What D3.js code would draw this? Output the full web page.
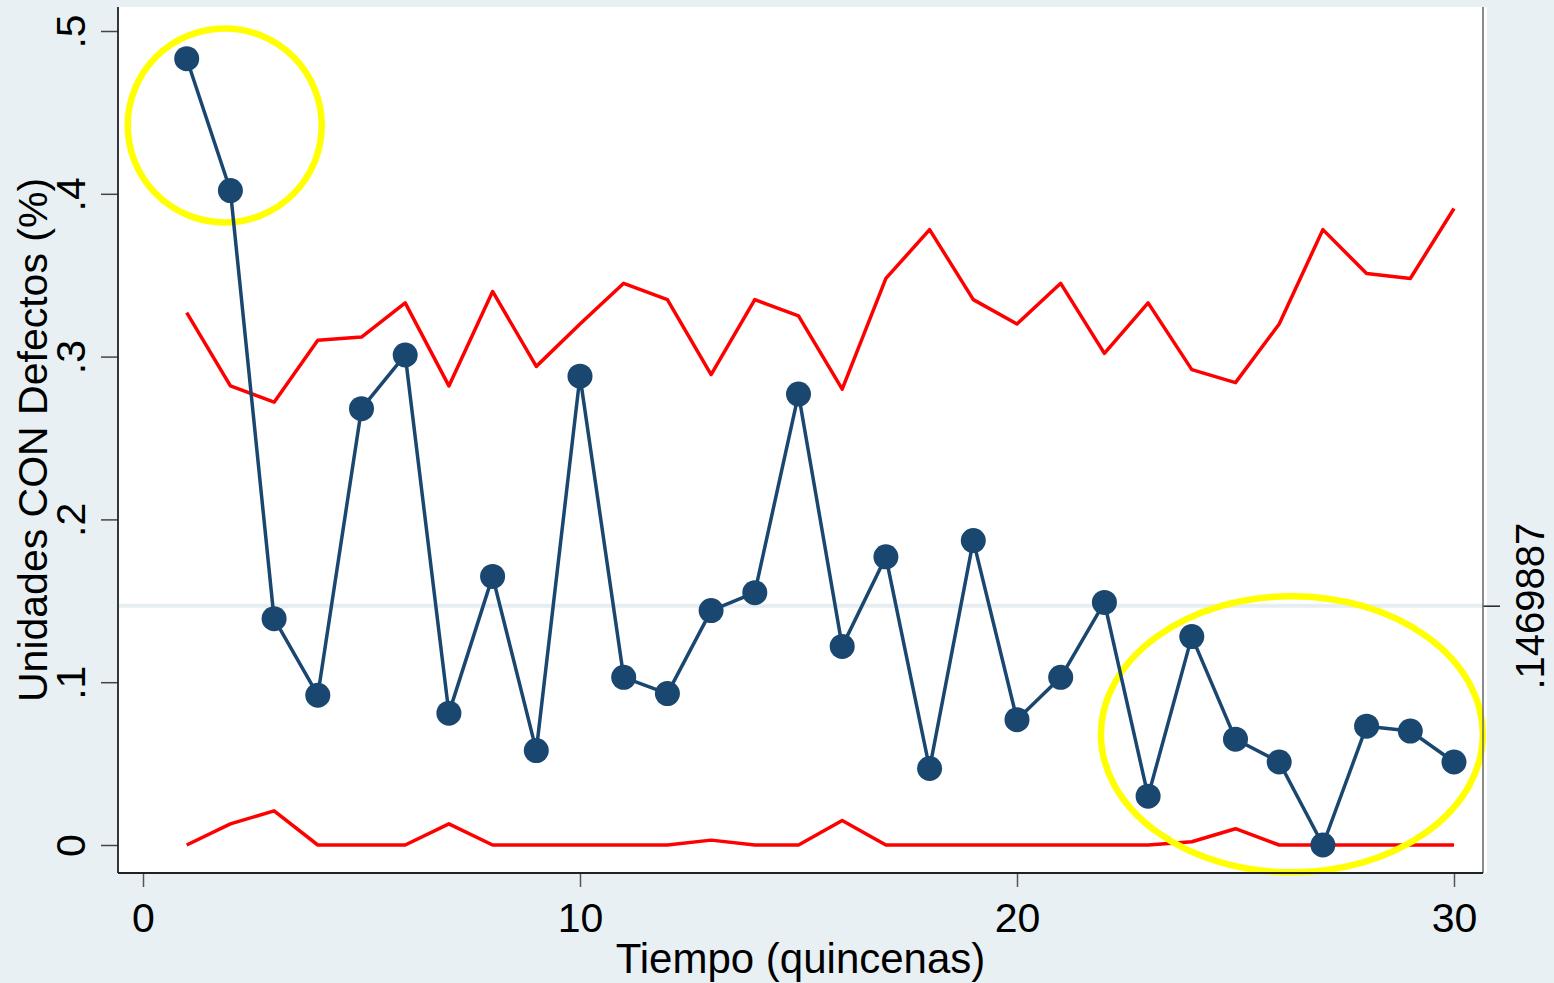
<!DOCTYPE html>
<html>
<head>
<meta charset="utf-8">
<script src="https://cdn.jsdelivr.net/npm/d3@7"></script>
<style>
  html, body { margin: 0; padding: 0; background: #e8f0f3; }
  svg { display: block; }
  text { font-family: "Liberation Sans", Arial, sans-serif; fill: #000; }
</style>
</head>
<body>
<div id="chart"></div>
<script>
// quincenas 1..30
const periods = d3.range(1, 31)

// proportion of units with defects
const pValues = [0.483, 0.402, 0.139, 0.092, 0.268, 0.301, 0.081, 0.165, 0.058, 0.288,
                 0.103, 0.093, 0.144, 0.155, 0.277, 0.122, 0.177, 0.047, 0.187, 0.077,
                 0.103, 0.149, 0.030, 0.128, 0.065, 0.051, 0.000, 0.073, 0.070, 0.051]

// upper control limit
const uclValues = [0.327, 0.282, 0.272, 0.310, 0.312, 0.333, 0.282, 0.340, 0.294, 0.320,
                   0.345, 0.335, 0.289, 0.335, 0.325, 0.280, 0.348, 0.378, 0.335, 0.320,
                   0.345, 0.302, 0.333, 0.292, 0.284, 0.320, 0.378, 0.351, 0.348, 0.391]

// lower control limit
const lclValues = [0, 0.013, 0.021, 0, 0, 0, 0.013, 0, 0, 0,
                   0, 0, 0.003, 0, 0, 0.015, 0, 0, 0, 0,
                   0, 0, 0, 0.002, 0.010, 0, 0, 0, 0, 0]

const centerLine = 0.1469887

const xTicks = [0, 10, 20, 30]
const yTicks = [0, 0.1, 0.2, 0.3, 0.4, 0.5]

// yellow highlight ellipses (data units): cx, cy, rx, ry
const highlights = [
    {cx: 1.87, cy: 0.442, rx: 2.22, ry: 0.0596},
    {cx: 26.29, cy: 0.068, rx: 4.37, ry: 0.0848}
]

const width = 1554
const height = 983
const plot = {left: 118, right: 1483, top: 7, bottom: 873}

const svg = d3.select("#chart").append("svg")
    .attr("width", width)
    .attr("height", height)

svg.append("rect")
    .attr("width", width).attr("height", height)
    .attr("fill", "#e8f0f3")

// plot region
svg.append("rect")
    .attr("x", plot.left).attr("y", plot.top)
    .attr("width", plot.right - plot.left + 4)
    .attr("height", plot.bottom - plot.top)
    .attr("fill", "#ffffff")

const x = d3.scaleLinear().domain([0, 30]).range([143, 1454])
const y = d3.scaleLinear().domain([0, 0.5]).range([845, 31])

// center line
svg.append("line")
    .attr("x1", plot.left).attr("x2", plot.right)
    .attr("y1", y(centerLine)).attr("y2", y(centerLine))
    .attr("stroke", "#e6eef1").attr("stroke-width", 4)

const line = d3.line().x((d, i) => x(periods[i])).y(d => y(d))

// control limits
svg.append("path").datum(uclValues)
    .attr("d", line).attr("fill", "none")
    .attr("stroke", "#ff0000").attr("stroke-width", 3.5).attr("stroke-linejoin", "round")
svg.append("path").datum(lclValues)
    .attr("d", line).attr("fill", "none")
    .attr("stroke", "#ff0000").attr("stroke-width", 3.5).attr("stroke-linejoin", "round")

// yellow highlights
svg.selectAll(".hl").data(highlights).enter().append("ellipse")
    .attr("class", "hl")
    .attr("cx", d => x(d.cx)).attr("cy", d => y(d.cy))
    .attr("rx", d => x(d.cx + d.rx) - x(d.cx))
    .attr("ry", d => y(d.cy - d.ry) - y(d.cy))
    .attr("fill", "none").attr("stroke", "#ffff00").attr("stroke-width", 6.5)

// p series
svg.append("path").datum(pValues)
    .attr("d", line).attr("fill", "none")
    .attr("stroke", "#1a476f").attr("stroke-width", 3.5).attr("stroke-linejoin", "round")

svg.selectAll(".dot").data(pValues).enter().append("circle")
    .attr("class", "dot")
    .attr("cx", (d, i) => x(periods[i]))
    .attr("cy", d => y(d))
    .attr("r", 12.5)
    .attr("fill", "#1a476f")

// axes
const fmt = d => d === 0 ? "0" : d3.format(".1f")(d).replace(/^0/, "")

const yAxis = svg.append("g")
    .attr("transform", `translate(${plot.left},0)`)
    .call(d3.axisLeft(y).tickValues(yTicks).tickFormat(fmt).tickSize(17))
yAxis.select(".domain").remove()
yAxis.selectAll(".tick line").attr("stroke", "#444").attr("stroke-width", 1.5)
yAxis.selectAll(".tick text")
    .attr("x", null).attr("dy", null)
    .attr("text-anchor", "middle")
    .attr("transform", "translate(-33,0) rotate(-90)")
    .style("font-size", "41px")

const rAxis = svg.append("g")
    .attr("transform", `translate(${plot.right},0)`)
    .call(d3.axisRight(y).tickValues([centerLine]).tickFormat(() => ".1469887").tickSize(17))
rAxis.select(".domain").remove()
rAxis.selectAll(".tick line").attr("stroke", "#222").attr("stroke-width", 1.5)
rAxis.selectAll(".tick text")
    .attr("x", null).attr("dy", null)
    .attr("text-anchor", "middle")
    .attr("transform", "translate(61,0) rotate(-90)")
    .style("font-size", "40px")

const xAxis = svg.append("g")
    .attr("transform", `translate(0,${plot.bottom})`)
    .call(d3.axisBottom(x).tickValues(xTicks).tickFormat(d3.format("d")).tickSize(14))
xAxis.select(".domain").remove()
xAxis.selectAll(".tick line").attr("stroke", "#555").attr("stroke-width", 1.5)
xAxis.selectAll(".tick text")
    .attr("y", 59).attr("dy", null)
    .style("font-size", "41px")

// axis lines spanning the plot region
svg.append("line")
    .attr("x1", plot.left).attr("x2", plot.left)
    .attr("y1", plot.top).attr("y2", plot.bottom)
    .attr("stroke", "#222").attr("stroke-width", 1.8)
svg.append("line")
    .attr("x1", plot.right).attr("x2", plot.right)
    .attr("y1", plot.top).attr("y2", plot.bottom)
    .attr("stroke", "#666").attr("stroke-width", 1.5)
svg.append("line")
    .attr("x1", plot.left).attr("x2", plot.right)
    .attr("y1", plot.bottom).attr("y2", plot.bottom)
    .attr("stroke", "#222").attr("stroke-width", 1.8)

// titles
svg.append("text")
    .attr("x", (plot.left + plot.right) / 2).attr("y", 973)
    .attr("text-anchor", "middle")
    .style("font-size", "42px")
    .text("Tiempo (quincenas)")

svg.append("text")
    .attr("transform", `translate(47,${(plot.top + plot.bottom) / 2}) rotate(-90)`)
    .attr("text-anchor", "middle")
    .style("font-size", "41px")
    .text("Unidades CON Defectos (%)")
</script>
</body>
</html>
